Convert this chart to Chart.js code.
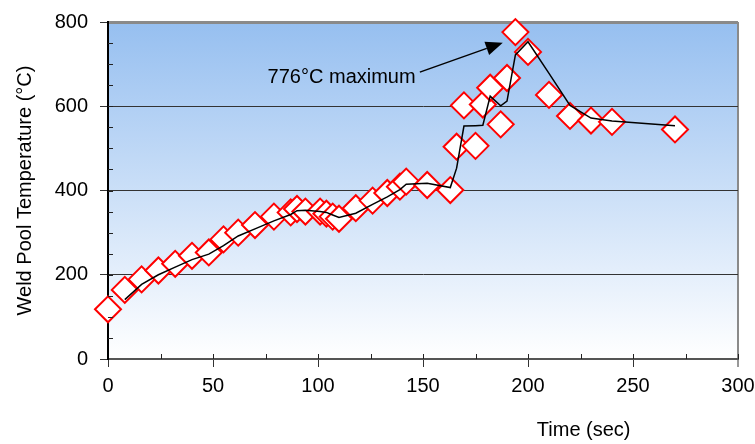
<!DOCTYPE html>
<html><head><meta charset="utf-8">
<script src="https://cdn.jsdelivr.net/npm/chart.js@4.4.1/dist/chart.umd.min.js"></script>
<style>html,body{margin:0;padding:0;background:#fff}#wrap{width:755px;height:444px}</style>
</head><body><div id="wrap"><canvas id="c" width="755" height="444"></canvas></div>
<script>
// ---- data ----
const timeSec = [0, 8, 16, 24, 32, 40, 48, 55, 62, 70, 79, 87, 90, 94, 101, 104, 107, 110, 118, 126, 133, 139, 142, 152, 163, 166, 169.5, 175, 178.5, 182, 187, 190, 194, 200, 210, 220, 230, 240, 270];
const tempC   = [118, 164, 189, 210, 226, 245, 253, 284, 300, 318, 338, 348, 356, 350, 350, 345, 338, 333, 358, 376, 394, 409, 421, 413, 401, 504, 602, 506, 604, 644, 557, 667, 776, 729, 627, 577, 566, 563, 545];
// moving-average trend line (as drawn in the reference)
const trendTime = [8, 16, 24, 32, 40, 48, 55, 62, 70, 79, 87, 90, 94, 101, 104, 107, 110, 118, 126, 133, 139, 142, 152, 163, 166, 169.5, 175, 178.5, 182, 187, 190, 194, 200, 210, 220, 230, 240, 270];
const trendTemp = [141, 177, 200, 218, 236, 249, 269, 292, 309, 328, 343, 352, 353, 350, 348, 342, 336, 346, 367, 385, 402, 415, 417, 407, 453, 553, 554, 555, 624, 601, 612, 722, 753, 678, 602, 572, 565, 554];
const xTickMin = 0, xTickMax = 300, xTickStep = 50, xMinorStep = 25;
const yTickMin = 0, yTickMax = 800, yTickStep = 200, yMinorStep = 50;
const xTitle = 'Time (sec)';
const yTitle = 'Weld Pool Temperature (°C)';
const noteText = '776°C maximum';
const noteTextAt = [146.5, 669];   // data units: right end of text, middle
const noteTail = [148.5, 681];     // arrow start (data units)
const noteHead = [188, 751];       // arrow tip (data units)

const FONT = '"Liberation Sans", Arial, sans-serif';
const FS = 20;

const bgPlugin = {
  id: 'bg',
  beforeDraw(chart) {
    const {ctx, chartArea: a} = chart;
    const g = ctx.createLinearGradient(0, a.top, 0, a.bottom);
    g.addColorStop(0, '#96bff0');
    g.addColorStop(1, '#ffffff');
    ctx.save();
    ctx.fillStyle = g;
    ctx.fillRect(a.left, a.top, a.right - a.left, a.bottom - a.top);
    ctx.restore();
  },
  afterDraw(chart) {
    const {ctx, chartArea: a, scales: {x, y}} = chart;
    ctx.save();
    // inner minor tick marks
    ctx.strokeStyle = '#222';
    ctx.lineWidth = 1;
    for (let v = yTickMin + yMinorStep; v < yTickMax; v += yMinorStep) {
      const py = Math.round(y.getPixelForValue(v)) + 0.5;
      ctx.beginPath(); ctx.moveTo(a.left, py); ctx.lineTo(a.left + 5, py); ctx.stroke();
    }
    for (let v = xTickMin + xMinorStep; v <= xTickMax; v += xMinorStep) {
      const px = Math.round(x.getPixelForValue(v)) + 0.5;
      ctx.beginPath(); ctx.moveTo(px, a.bottom); ctx.lineTo(px, a.bottom - 5); ctx.stroke();
    }
    // x axis title
    ctx.fillStyle = '#000';
    ctx.font = FS + 'px ' + FONT;
    ctx.textAlign = 'center';
    ctx.textBaseline = 'middle';
    ctx.fillText(xTitle, a.left + (a.right - a.left) * 0.755, 430);
    // annotation
    ctx.textAlign = 'right';
    ctx.fillText(noteText, x.getPixelForValue(noteTextAt[0]), y.getPixelForValue(noteTextAt[1]));
    const x0 = x.getPixelForValue(noteTail[0]), y0 = y.getPixelForValue(noteTail[1]);
    const x1 = x.getPixelForValue(noteHead[0]), y1 = y.getPixelForValue(noteHead[1]);
    const ang = Math.atan2(y1 - y0, x1 - x0);
    const L = 17, W = 7;
    const bx = x1 - L * Math.cos(ang), by = y1 - L * Math.sin(ang);
    ctx.strokeStyle = '#000'; ctx.lineWidth = 1.5;
    ctx.beginPath(); ctx.moveTo(x0, y0); ctx.lineTo(bx, by); ctx.stroke();
    ctx.fillStyle = '#000';
    ctx.beginPath();
    ctx.moveTo(x1, y1);
    ctx.lineTo(bx + W * Math.sin(ang), by - W * Math.cos(ang));
    ctx.lineTo(bx - W * Math.sin(ang), by + W * Math.cos(ang));
    ctx.closePath(); ctx.fill();
    ctx.restore();
  }
};

new Chart(document.getElementById('c'), {
  type: 'scatter',
  data: {
    datasets: [
      {
        label: 'Trend',
        data: trendTime.map((t, i) => ({x: t, y: trendTemp[i]})),
        showLine: true,
        borderColor: '#000',
        borderWidth: 1.5,
        pointRadius: 0,
        tension: 0,
        order: 0
      },
      {
        label: 'Weld pool temperature',
        data: timeSec.map((t, i) => ({x: t, y: tempC[i]})),
        pointStyle: 'rectRot',
        pointRadius: 13,
        pointHoverRadius: 13,
        pointBackgroundColor: '#ffffff',
        pointBorderColor: '#ff0000',
        pointBorderWidth: 2,
        showLine: false,
        clip: false,
        order: 1
      }
    ]
  },
  options: {
    responsive: false,
    animation: false,
    devicePixelRatio: 1,
    layout: {padding: {top: 22, right: 17, left: 0, bottom: 0}},
    plugins: {legend: {display: false}, tooltip: {enabled: false}},
    scales: {
      x: {
        type: 'linear', min: xTickMin, max: xTickMax,
        ticks: {stepSize: xTickStep, color: '#000', font: {family: FONT, size: FS}, padding: 7, maxRotation: 0},
        grid: {
          color: c => c.tick && c.tick.value === xTickMax ? '#8a8a8a' : 'rgba(0,0,0,0)',
          lineWidth: c => c.tick && c.tick.value === xTickMax ? 2 : 1,
          tickColor: '#333', tickLength: 8, tickWidth: 1
        },
        border: {color: '#555', width: 2},
        afterFit: s => { s.height = 85; s.paddingRight = 0; s.paddingLeft = 0; }
      },
      y: {
        type: 'linear', min: yTickMin, max: yTickMax,
        ticks: {stepSize: yTickStep, color: '#000', font: {family: FONT, size: FS}, padding: 12},
        grid: {
          color: c => {
            if (!c.tick) return 'rgba(0,0,0,0)';
            if (c.tick.value === yTickMax) return '#8a8a8a';
            if (c.tick.value === yTickMin) return 'rgba(0,0,0,0)';
            return '#333';
          },
          lineWidth: c => c.tick && c.tick.value === yTickMax ? 3 : 1,
          tickColor: '#333', tickLength: 8, tickWidth: 1
        },
        border: {color: '#000', width: 2},
        title: {display: true, text: yTitle, color: '#000', font: {family: FONT, size: FS}, padding: {top: 13, bottom: 0}},
        afterFit: s => { s.width = 108; s.paddingTop = 0; s.paddingBottom = 0; }
      }
    }
  },
  plugins: [bgPlugin]
});
</script>
</body></html>
